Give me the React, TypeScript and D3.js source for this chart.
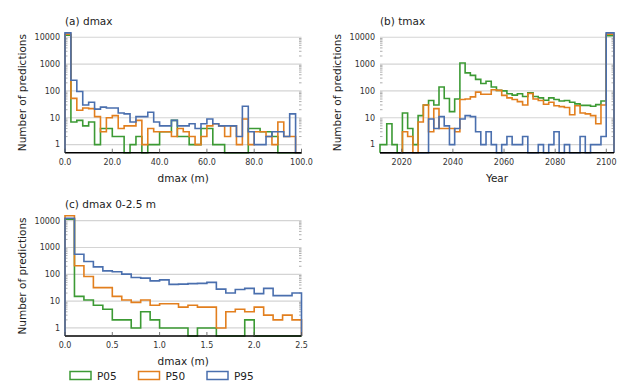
import React, { useEffect } from 'react'
import * as d3 from 'd3'

// histogram bin edges
const dmaxEdges = d3.range(41).map(i => i * 2.5)
const tmaxEdges = [2011.5, ...d3.range(43).map(k => 2014.14 + 2.043 * k), 2103]
const dmaxZoomEdges = d3.range(26).map(i => i / 10)

// counts per bin
const dmaxP05 = [12000, 7, 8, 5, 7, 1, 4, 4, 2, 2, 0, 1, 2, 0, 1, 1, 3, 3, 8, 2, 2, 1, 1, 4, 4, 1, 1, 0, 0, 0, 0, 4, 4, 3, 3, 2, 0, 0, 0, 0]
const dmaxP50 = [13000, 53, 19, 23, 22, 11, 3, 10, 12, 4, 5, 5, 8, 1, 4, 3, 3, 3, 2, 4, 3, 2, 1, 2, 5, 6, 5, 2, 5, 1, 9, 1, 3, 3, 2, 1, 7, 2, 2, 0]
const dmaxP95 = [14500, 250, 95, 30, 38, 21, 25, 23, 23, 15, 14, 7, 11, 11, 16, 7, 5, 5, 8, 5, 5, 6, 4, 6, 9, 6, 5, 5, 5, 2, 27, 3, 1, 1, 2, 3, 3, 2, 14, 0]

const tmaxP05 = [1, 6, 1, 0, 15, 4, 1, 12, 30, 44, 30, 140, 52, 17, 50, 1100, 470, 380, 270, 190, 230, 140, 105, 100, 78, 70, 78, 62, 85, 62, 55, 45, 55, 48, 42, 44, 38, 33, 29, 29, 27, 31, 42, 11500]
const tmaxP50 = [0, 0, 0, 0, 3, 2, 0, 7, 30, 3, 22, 4, 4, 4, 3, 48, 50, 60, 90, 75, 75, 110, 105, 68, 55, 48, 40, 30, 80, 50, 44, 32, 38, 28, 26, 24, 13, 28, 15, 14, 12, 6, 30, 13000]
const tmaxP95 = [0, 0, 0, 0, 0, 0, 0, 0, 0, 9, 4, 11, 5, 1, 4, 9, 12, 11, 3, 1, 3, 1, 0, 1, 2, 1, 1, 2, 0, 0, 1, 0, 1, 3, 0, 1, 0, 0, 2, 0, 1, 1, 2, 14500]

const zoomP05 = [11500, 15, 11, 7, 5, 2, 2, 1, 4, 2, 1, 1, 1, 0, 1, 1, 0, 0, 0, 2, 0, 0, 0, 0, 0]
const zoomP50 = [15400, 210, 83, 32, 32, 15, 11, 9, 11, 7, 8, 8, 6, 7, 6, 6, 1, 4, 5, 4, 6, 3, 2, 3, 2]
const zoomP95 = [12300, 560, 300, 190, 135, 125, 102, 76, 72, 57, 62, 42, 43, 45, 46, 50, 28, 20, 27, 30, 19, 30, 16, 16, 20]

const yTicks = [1, 10, 100, 1000, 10000]
const dmaxTicks = [0, 20, 40, 60, 80, 100]
const tmaxTicks = [2020, 2040, 2060, 2080, 2100]
const zoomTicks = [0, 0.5, 1, 1.5, 2, 2.5]

const seriesNames = ['P05', 'P50', 'P95']
const colors = ['#3c9a34', '#e27f1e', '#4a6fae']

const FONT = 'DejaVu Sans, sans-serif'
const FLOOR = 0.5

function Panel({ title, xLabel, left, right, top, bottom, xDomain, xTicks, fmt, edges, series }) {
  const x = d3.scaleLinear().domain(xDomain).range([left, right])
  const y = d3.scaleLog().domain([FLOOR, 15000]).range([bottom, top])
  const minor = d3.range(0, 5).flatMap(p => d3.range(2, 10).map(m => m * Math.pow(10, p))).filter(v => v < 15000)
  const line = d3.line().x(d => x(d[0])).y(d => y(Math.max(d[1], FLOOR))).curve(d3.curveStepAfter)
  const n = edges.length - 1
  return (
    <g>
      <text x={left} y={top - 8} fontSize={10.5} fill="#222" fontFamily={FONT}>{title}</text>
      {yTicks.map(t => (
        <g key={t}>
          <line x1={left} x2={right} y1={y(t)} y2={y(t)} stroke="#d4d4d4" strokeWidth={1.2} />
          <text x={left - 5} y={y(t)} dy="0.35em" textAnchor="end" fontSize={8} fill="#333" fontFamily={FONT}>{t}</text>
        </g>
      ))}
      {minor.map(t => (
        <g key={t} stroke="#999" strokeWidth={0.8}>
          <line x1={left} x2={left + 2.5} y1={y(t)} y2={y(t)} />
          <line x1={right} x2={right - 2.5} y1={y(t)} y2={y(t)} />
        </g>
      ))}
      {series.map((vals, i) => {
        const pts = [[edges[0], FLOOR], ...vals.map((v, j) => [edges[j], v]), [edges[n], vals[n - 1]], [edges[n], FLOOR]]
        return <path key={i} d={line(pts)} fill="none" stroke={colors[i]} strokeWidth={1.6} strokeLinejoin="miter" />
      })}
      <line x1={left} x2={right} y1={bottom} y2={bottom} stroke="#000" strokeWidth={1.6} />
      {xTicks.map(t => (
        <g key={t}>
          <line x1={x(t)} x2={x(t)} y1={bottom} y2={bottom - 4} stroke="#555" strokeWidth={0.8} />
          <text x={x(t)} y={bottom + 12} textAnchor="middle" fontSize={8} fill="#333" fontFamily={FONT}>{fmt(t)}</text>
        </g>
      ))}
      <text x={(left + right) / 2} y={bottom + 29} textAnchor="middle" fontSize={10.5} fill="#222" fontFamily={FONT}>{xLabel}</text>
      <text transform={`translate(${left - 39},${(top + bottom) / 2}) rotate(-90)`} textAnchor="middle" fontSize={10.5} fill="#222" fontFamily={FONT}>Number of predictions</text>
    </g>
  )
}

export default function App() {
  useEffect(() => { document.body.style.margin = '0' }, [])
  return (
    <svg width={634} height={384} style={{ display: 'block', background: '#fff' }}>
      <Panel title="(a) dmax" xLabel="dmax (m)" left={65} right={301.5} top={32.5} bottom={152.7}
        xDomain={[0, 100]} xTicks={dmaxTicks} fmt={d3.format('.1f')} edges={dmaxEdges}
        series={[dmaxP05, dmaxP50, dmaxP95]} />
      <Panel title="(b) tmax" xLabel="Year" left={380} right={614} top={32.5} bottom={152.7}
        xDomain={[2011.5, 2103]} xTicks={tmaxTicks} fmt={d3.format('d')} edges={tmaxEdges}
        series={[tmaxP05, tmaxP50, tmaxP95]} />
      <Panel title="(c) dmax 0-2.5 m" xLabel="dmax (m)" left={65} right={301.5} top={216} bottom={336}
        xDomain={[0, 2.5]} xTicks={zoomTicks} fmt={d3.format('.1f')} edges={dmaxZoomEdges}
        series={[zoomP05, zoomP50, zoomP95]} />
      {seriesNames.map((s, i) => (
        <g key={s} transform={`translate(${70 + i * 68.5},371.5)`}>
          <rect x={0} y={0} width={21} height={8} fill="none" stroke={colors[i]} strokeWidth={1.5} />
          <text x={27} y={8} fontSize={10.5} fill="#222" fontFamily={FONT}>{s}</text>
        </g>
      ))}
    </svg>
  )
}
